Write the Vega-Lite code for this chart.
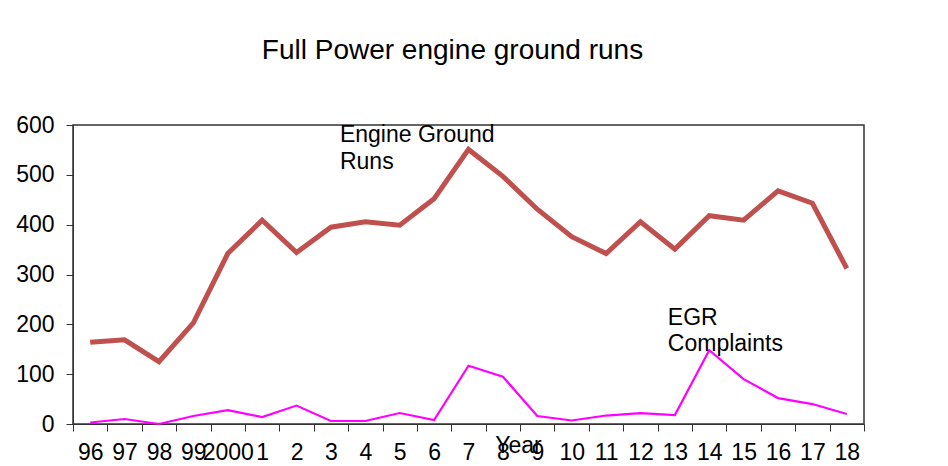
{
  "$schema": "https://vega.github.io/schema/vega-lite/v6.json",
  "autosize": "none",
  "width": 791,
  "height": 299,
  "padding": {"left": 73, "top": 125, "right": 84, "bottom": 42},
  "background": "white",
  "config": {
    "font": "Liberation Sans",
    "view": {"stroke": "#333333", "strokeWidth": 1.5},
    "axis": {"domainColor": "#333333", "tickColor": "#333333", "labelColor": "black", "titleColor": "black", "grid": false}
  },
  "title": {
    "text": "Full Power engine ground runs",
    "fontSize": 28,
    "fontWeight": "normal",
    "font": "Liberation Sans",
    "color": "black",
    "frame": "group",
    "anchor": "middle",
    "baseline": "alphabetic",
    "offset": 27,
    "dx": -16
  },
  "datasets": {
    "series": [
      {"year": "96", "series": "Engine Ground Runs", "value": 164},
      {"year": "97", "series": "Engine Ground Runs", "value": 169},
      {"year": "98", "series": "Engine Ground Runs", "value": 125},
      {"year": "99", "series": "Engine Ground Runs", "value": 203},
      {"year": "2000", "series": "Engine Ground Runs", "value": 342},
      {"year": "1", "series": "Engine Ground Runs", "value": 409},
      {"year": "2", "series": "Engine Ground Runs", "value": 344},
      {"year": "3", "series": "Engine Ground Runs", "value": 395},
      {"year": "4", "series": "Engine Ground Runs", "value": 406},
      {"year": "5", "series": "Engine Ground Runs", "value": 399},
      {"year": "6", "series": "Engine Ground Runs", "value": 452},
      {"year": "7", "series": "Engine Ground Runs", "value": 551},
      {"year": "8", "series": "Engine Ground Runs", "value": 497},
      {"year": "9", "series": "Engine Ground Runs", "value": 431},
      {"year": "10", "series": "Engine Ground Runs", "value": 376},
      {"year": "11", "series": "Engine Ground Runs", "value": 342},
      {"year": "12", "series": "Engine Ground Runs", "value": 406},
      {"year": "13", "series": "Engine Ground Runs", "value": 351},
      {"year": "14", "series": "Engine Ground Runs", "value": 418},
      {"year": "15", "series": "Engine Ground Runs", "value": 409},
      {"year": "16", "series": "Engine Ground Runs", "value": 468},
      {"year": "17", "series": "Engine Ground Runs", "value": 443},
      {"year": "18", "series": "Engine Ground Runs", "value": 312},
      {"year": "96", "series": "EGR Complaints", "value": 3},
      {"year": "97", "series": "EGR Complaints", "value": 10},
      {"year": "98", "series": "EGR Complaints", "value": 0},
      {"year": "99", "series": "EGR Complaints", "value": 16},
      {"year": "2000", "series": "EGR Complaints", "value": 28},
      {"year": "1", "series": "EGR Complaints", "value": 14},
      {"year": "2", "series": "EGR Complaints", "value": 37},
      {"year": "3", "series": "EGR Complaints", "value": 6},
      {"year": "4", "series": "EGR Complaints", "value": 6},
      {"year": "5", "series": "EGR Complaints", "value": 22},
      {"year": "6", "series": "EGR Complaints", "value": 8},
      {"year": "7", "series": "EGR Complaints", "value": 117},
      {"year": "8", "series": "EGR Complaints", "value": 95},
      {"year": "9", "series": "EGR Complaints", "value": 16},
      {"year": "10", "series": "EGR Complaints", "value": 7},
      {"year": "11", "series": "EGR Complaints", "value": 17},
      {"year": "12", "series": "EGR Complaints", "value": 22},
      {"year": "13", "series": "EGR Complaints", "value": 18},
      {"year": "14", "series": "EGR Complaints", "value": 148},
      {"year": "15", "series": "EGR Complaints", "value": 90},
      {"year": "16", "series": "EGR Complaints", "value": 52},
      {"year": "17", "series": "EGR Complaints", "value": 40},
      {"year": "18", "series": "EGR Complaints", "value": 20}
    ],
    "labels": [
      {"year": "3", "value": 600, "label": "Engine Ground\nRuns"},
      {"year": "13", "value": 232, "label": "EGR\nComplaints"}
    ]
  },
  "layer": [
    {
      "data": {"name": "series"},
      "mark": {"type": "line", "strokeCap": "butt", "strokeJoin": "miter"},
      "encoding": {
        "x": {
          "field": "year", "type": "ordinal", "sort": null, "bandPosition": 0.5,
          "scale": {"type": "band", "paddingInner": 0, "paddingOuter": 0},
          "axis": {
            "title": "Year", "titleFontSize": 23, "titleFontWeight": "normal",
            "titleX": 445, "titleY": 28, "titleBaseline": "alphabetic", "titleAlign": "center", "titleAnchor": null,
            "labelFontSize": 23, "labelAngle": 0, "labelPadding": 10, "tickSize": 7, "tickBand": "extent",
            "labelOverlap": false, "labelFlush": false
          }
        },
        "y": {
          "field": "value", "type": "quantitative",
          "scale": {"domain": [0, 600], "nice": false},
          "axis": {"title": null, "values": [0, 100, 200, 300, 400, 500, 600], "labelFontSize": 23, "labelPadding": 12, "tickSize": 7}
        },
        "color": {
          "field": "series", "type": "nominal",
          "scale": {"domain": ["Engine Ground Runs", "EGR Complaints"], "range": ["#C0504D", "#FF00FF"]},
          "legend": null
        },
        "strokeWidth": {
          "field": "series", "type": "nominal",
          "scale": {"domain": ["Engine Ground Runs", "EGR Complaints"], "range": [5, 2.2]},
          "legend": null
        }
      }
    },
    {
      "data": {"name": "labels"},
      "transform": [{"filter": "datum.year == '3'"}],
      "mark": {"type": "text", "align": "left", "baseline": "top", "fontSize": 23, "lineHeight": 27, "lineBreak": "\n", "color": "black", "dy": -1, "dx": 9},
      "encoding": {
        "x": {"field": "year", "type": "ordinal", "sort": null, "bandPosition": 0.5},
        "y": {"field": "value", "type": "quantitative"},
        "text": {"field": "label"}
      }
    },
    {
      "data": {"name": "labels"},
      "transform": [{"filter": "datum.year == '13'"}],
      "mark": {"type": "text", "align": "left", "baseline": "top", "fontSize": 23, "lineHeight": 26, "lineBreak": "\n", "color": "black", "dy": -1, "dx": -7},
      "encoding": {
        "x": {"field": "year", "type": "ordinal", "sort": null, "bandPosition": 0.5},
        "y": {"field": "value", "type": "quantitative"},
        "text": {"field": "label"}
      }
    }
  ]
}
